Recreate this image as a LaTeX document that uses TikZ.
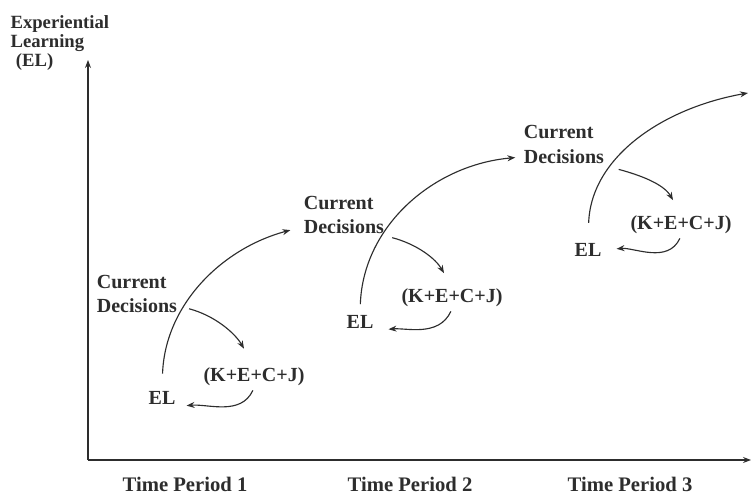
\documentclass[tikz,border=0pt]{standalone}
\usepackage{fontspec}
\setmainfont{Liberation Serif}
\usetikzlibrary{arrows.meta}
\definecolor{ink}{RGB}{45,45,45}

\begin{document}
\begin{tikzpicture}[x=0.75pt, y=0.75pt, >={Stealth[length=6pt,width=4.5pt]}, line width=0.85pt, draw=ink,
  lbl/.style={font=\bfseries\fontsize{15}{18}\selectfont, text=ink, inner sep=1pt},
  axislbl/.style={font=\bfseries\fontsize{14}{14}\selectfont, text=ink, inner sep=0pt, align=left},
  period/.style={font=\bfseries\fontsize{15.5}{18}\selectfont, text=ink, inner sep=1pt}]
  \useasboundingbox (0,0) rectangle (752,496);

  % axes
  \coordinate (origin) at (88,36);
  \coordinate (ytip) at (88,436);
  \coordinate (xtip) at (751,36);
  \draw[->] (origin) -- (ytip);
  \draw[->] (origin) -- (xtip);

  \node[axislbl, anchor=west] (ylabel) at (10,453) {Experiential\\Learning\\\hspace{4pt}(EL)};

  \node[period] (tp1) at (185,12) {Time Period 1};
  \node[period] (tp2) at (410,12) {Time Period 2};
  \node[period] (tp3) at (630,12) {Time Period 3};

  % period 1
  \node[lbl, anchor=west] (cur1) at (95,214) {Current};
  \node[lbl, anchor=west] (dec1) at (95,190) {Decisions};
  \node[lbl] (el1) at (162,98) {EL};
  \node[lbl] (kecj1) at (254,119) {(K+E+C+J)};

  % period 2
  \node[lbl, anchor=west] (cur2) at (302,293) {Current};
  \node[lbl, anchor=west] (dec2) at (302,269) {Decisions};
  \node[lbl] (el2) at (360,174) {EL};
  \node[lbl] (kecj2) at (452,198) {(K+E+C+J)};

  % period 3
  \node[lbl, anchor=west] (cur3) at (522,364) {Current};
  \node[lbl, anchor=west] (dec3) at (522,339) {Decisions};
  \node[lbl] (el3) at (588,246) {EL};
  \node[lbl] (kecj3) at (681,271) {(K+E+C+J)};
  \coordinate (next) at (748,403);

  % learning arcs
  \draw[->, shorten <=12pt, shorten >=9pt] (el1.north) to[out=88, in=195] (dec2.west);
  \draw[->, shorten <=7pt, shorten >=5pt] (el2.north) to[out=88, in=185] (dec3.west);
  \draw[->, shorten <=14pt] (el3.north) to[out=88, in=190] (next);

  % decisions to knowledge
  \draw[->, shorten <=8pt, shorten >=15pt] (dec1.east) to[out=-15, in=120] (kecj1.north);
  \draw[->, shorten <=5pt, shorten >=12pt] (dec2.south east) to[out=-15, in=120] (kecj2.north);
  \draw[->, shorten <=10pt, shorten >=12pt] (dec3.south east) to[out=-15, in=120] (kecj3.north);

  % back to EL
  \draw[->, shorten <=2pt, shorten >=7pt] (kecj1.south) to[out=-115, in=5] (el1.south east);
  \draw[->, shorten <=2pt, shorten >=10pt] (kecj2.south) to[out=-115, in=5] (el2.south east);
  \draw[->, shorten <=2pt, shorten >=10pt] (kecj3.south) to[out=-115, in=5] (el3.east);
\end{tikzpicture}
\end{document}
